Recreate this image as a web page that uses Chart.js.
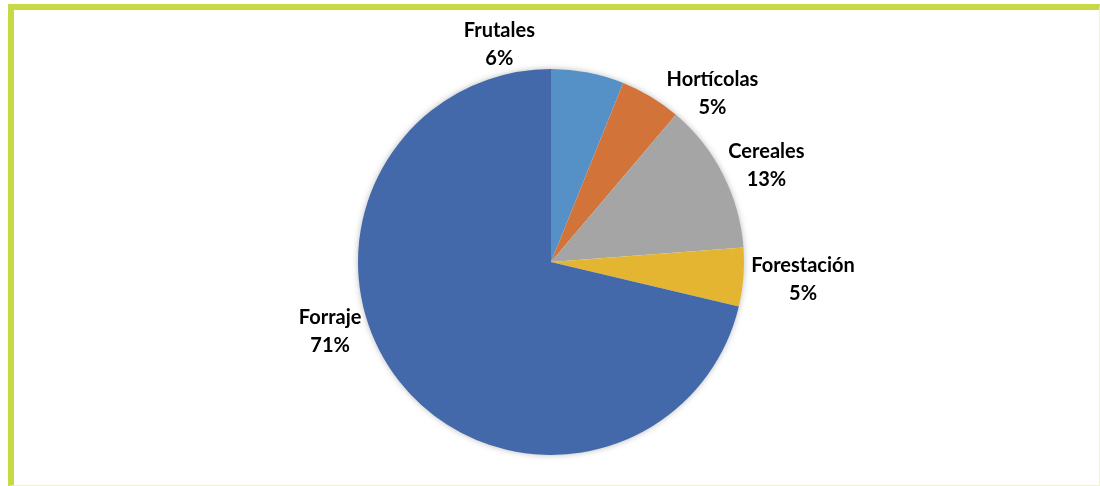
<!DOCTYPE html>
<html>
<head>
<meta charset="utf-8">
<script src="https://cdn.jsdelivr.net/npm/chart.js@4/dist/chart.umd.min.js"></script>
<style>
  html, body { margin: 0; padding: 0; background: #fff; }
  #wrap { position: relative; width: 1100px; height: 486px; }
  #frame {
    position: absolute; left: 8px; top: 4px; width: 1085px; height: 475px;
    border-top: 6px solid #c8d946; border-left: 6px solid #c8d946;
    border-right: 1px solid #eef2cf; border-bottom: 1px solid #eef2cf;
  }
  canvas { position: absolute; left: 0; top: 0; }
</style>
</head>
<body>
<div id="wrap">
  <div id="frame"></div>
  <canvas id="myChart" width="1100" height="486"></canvas>
</div>
<script>
const labels = ["Frutales", "Hortícolas", "Cereales", "Forestación", "Forraje"];
const values = [6.1, 5.1, 12.6, 4.9, 71.3];
const colors = ["#5590c7", "#d27339", "#a5a5a5", "#e3b530", "#4369aa"];

// soft shadow behind the pie
const pieShadow = {
  id: "pieShadow",
  beforeDatasetsDraw(chart) {
    const arc = chart.getDatasetMeta(0).data[0];
    if (!arc) return;
    const ctx = chart.ctx;
    ctx.save();
    ctx.shadowColor = "rgba(0,0,0,0.35)";
    ctx.shadowBlur = 7;
    ctx.fillStyle = "#fff";
    ctx.beginPath();
    ctx.arc(arc.x, arc.y, arc.outerRadius - 1, 0, Math.PI * 2);
    ctx.fill();
    ctx.restore();
  }
};

// outside labels: name + percent
const outsideLabels = {
  id: "outsideLabels",
  afterDatasetsDraw(chart, args, opts) {
    const ctx = chart.ctx;
    const data = chart.data.datasets[0].data;
    const total = data.reduce((a, b) => a + b, 0);
    ctx.save();
    ctx.font = "bold 20px Lato";
    ctx.fillStyle = "#000";
    ctx.textAlign = "center";
    ctx.textBaseline = "middle";
    chart.getDatasetMeta(0).data.forEach((arc, i) => {
      const a = (arc.startAngle + arc.endAngle) / 2 + (opts.shift[i] || 0) * Math.PI / 180;
      const c = Math.cos(a), s = Math.sin(a);
      const l1 = chart.data.labels[i];
      const l2 = Math.round(data[i] / total * 100) + "%";
      const hw = Math.max(ctx.measureText(l1).width, ctx.measureText(l2).width) / 2;
      const hh = 22;
      const d = arc.outerRadius + opts.gap;
      const cx = arc.x + d * c + c * hw;
      const cy = arc.y + d * s + s * hh;
      ctx.fillText(l1, cx, cy - 14);
      ctx.fillText(l2, cx, cy + 14);
    });
    ctx.restore();
  }
};

new Chart("myChart", {
  type: "pie",
  data: {
    labels: labels,
    datasets: [{
      data: values,
      backgroundColor: colors,
      borderWidth: 0
    }]
  },
  options: {
    responsive: false,
    animation: false,
    layout: { padding: { top: 69, bottom: 31, left: 358, right: 356 } },
    plugins: {
      legend: { display: false },
      tooltip: { enabled: false },
      outsideLabels: { gap: 8, shift: [-23.6, 9.7, 1.3, 0, 20.3] }
    }
  },
  plugins: [pieShadow, outsideLabels]
});
</script>
</body>
</html>
